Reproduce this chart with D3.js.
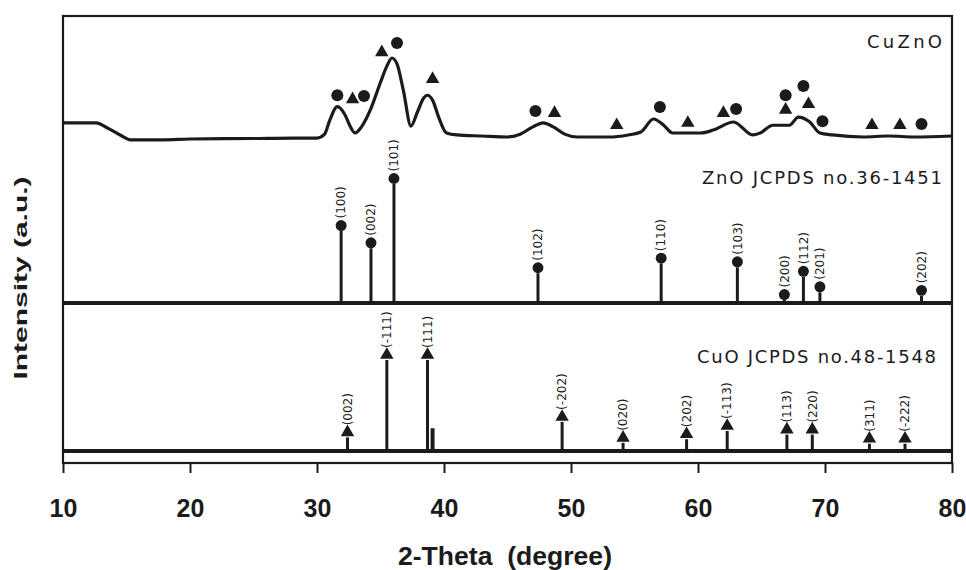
<!DOCTYPE html>
<html>
<head>
<meta charset="utf-8">
<script src="https://cdn.jsdelivr.net/npm/d3@7"></script>
<style>
  body { margin: 0; background: #fff; }
  svg { display: block; }
</style>
</head>
<body>
<div id="chart"></div>
<script>
// XRD patterns: CuZnO sample + ZnO / CuO reference cards
var mixTheta     = [10, 12.6, 13.5, 14.5, 15.4, 18, 20, 25, 28, 30, 30.6, 31.0, 31.6, 32.2, 32.6, 33.0, 33.5, 34.2, 35.0, 35.5, 35.9, 36.3, 36.8, 37.4, 37.9, 38.4, 38.7, 39.1, 39.6, 40.2, 41, 43, 45, 46, 47.0, 47.8, 48.6, 49.5, 50.5, 53, 54.5, 55.5, 56.5, 57.3, 58, 60.2, 61.2, 62.8, 64.3, 64.9, 65.9, 67.2, 67.9, 68.8, 69.6, 70.6, 73, 75, 77, 80];
var mixIntensity = [19.8, 19.8, 13.6, 4.9, -1.2, -1, 0, 0.6, 1.2, 1.2, 6, 23, 40, 30, 16, 7.4, 15, 36, 70, 90, 100, 92.6, 60, 16, 33, 50.6, 54, 48, 26, 7.4, 5, 3.7, 2.5, 6, 15, 20, 15, 6, 2.5, 2.5, 5, 8.6, 24.7, 17, 7.4, 7.4, 11, 21, 5, 7.4, 17, 17, 27, 21, 7.4, 5, 2.5, 3.7, 2.5, 3.7];

// phase markers over the CuZnO pattern ("c" = ZnO circle, "t" = CuO triangle)
var mixMarkTheta     = [31.6, 32.8, 33.7, 35.1, 36.3, 39.1, 47.2, 48.7, 53.6, 57.0, 59.2, 62.0, 63.0, 66.9, 68.3, 66.9, 68.7, 69.8, 73.7, 75.9, 77.6];
var mixMarkIntensity = [54, 49, 53, 107, 118.5, 74, 34.6, 32, 17, 39.5, 19.8, 32, 37, 54, 65.4, 36, 43, 22, 17, 17, 18.5];
var mixMarkShape     = ["c", "t", "c", "t", "c", "t", "c", "t", "t", "c", "t", "t", "c", "c", "c", "t", "t", "c", "t", "t", "c"];

var znoTheta     = [31.9, 34.25, 36.06, 47.4, 57.1, 63.1, 66.8, 68.3, 69.6, 77.6];
var znoIntensity = [60.5, 46, 100, 25, 33, 30, 2.5, 22, 9, 6];
var znoHkl       = ["(100)", "(002)", "(101)", "(102)", "(110)", "(103)", "(200)", "(112)", "(201)", "(202)"];

var cuoTheta     = [32.4, 35.5, 38.7, 39.1, 49.3, 54.1, 59.1, 62.3, 67.0, 69.0, 73.5, 76.3];
var cuoIntensity = [15, 100, 100, 25, 32, 9, 13, 22, 18, 18, 8, 8];
var cuoHkl       = ["(002)", "(-111)", "(111)", "", "(-202)", "(020)", "(202)", "(-113)", "(113)", "(220)", "(311)", "(-222)"];

var xTicks = [10, 20, 30, 40, 50, 60, 70, 80];

var width = 966, height = 570;
var ink = "#1b1b1b";

var svg = d3.select("#chart")
    .append("svg")
    .attr("width", width)
    .attr("height", height)

var x = d3.scaleLinear().domain([10, 80]).range([63, 952]);
var yMix = d3.scaleLinear().domain([0, 100]).range([139, 58]);
var yZnO = d3.scaleLinear().domain([0, 100]).range([303, 184]);
var yCuO = d3.scaleLinear().domain([0, 100]).range([451, 360]);

// frame
svg.append("rect")
    .attr("x", x(10))
    .attr("y", 16)
    .attr("width", x(80) - x(10))
    .attr("height", 463 - 16)
    .attr("fill", "none")
    .attr("stroke", ink)
    .attr("stroke-width", 2.2)

// x axis
var xAxis = d3.axisBottom(x)
    .tickValues(xTicks)
    .tickSize(10)
    .tickSizeOuter(0)
    .tickPadding(26)
    .tickFormat(d3.format("d"))

var gx = svg.append("g")
    .attr("transform", "translate(0,463)")
    .call(xAxis)
gx.select(".domain").remove()
gx.selectAll("line").attr("stroke", ink).attr("stroke-width", 2)
gx.selectAll("text")
    .attr("fill", ink)
    .attr("dy", "0.71em")
    .style("font-family", "'Liberation Sans', Arial, sans-serif")
    .style("font-weight", "bold")
    .style("font-size", "25px")

// axis titles
svg.append("text")
    .attr("x", 505)
    .attr("y", 565)
    .attr("text-anchor", "middle")
    .attr("fill", ink)
    .attr("textLength", 214)
    .attr("lengthAdjust", "spacingAndGlyphs")
    .style("white-space", "pre")
    .style("font-family", "'Liberation Sans', Arial, sans-serif")
    .style("font-weight", "bold")
    .style("font-size", "25px")
    .text("2-Theta  (degree)")

svg.append("text")
    .attr("transform", "translate(27,278) rotate(-90)")
    .attr("text-anchor", "middle")
    .attr("fill", ink)
    .attr("textLength", 203)
    .attr("lengthAdjust", "spacingAndGlyphs")
    .style("font-family", "'Liberation Sans', Arial, sans-serif")
    .style("font-weight", "bold")
    .style("font-size", "18px")
    .text("Intensity (a.u.)")

// CuZnO pattern
var line = d3.line()
    .x(function(d, i) { return x(mixTheta[i]) })
    .y(function(d) { return yMix(d) })
    .curve(d3.curveMonotoneX)

svg.append("path")
    .datum(mixIntensity)
    .attr("d", line)
    .attr("fill", "none")
    .attr("stroke", ink)
    .attr("stroke-width", 3.2)
    .attr("stroke-linejoin", "round")

var triangle = d3.symbol().type(d3.symbolTriangle).size(78);

svg.selectAll(".mix-mark")
    .data(mixMarkTheta)
    .enter().append("path")
    .attr("class", "mix-mark")
    .attr("transform", function(d, i) {
        return "translate(" + x(d) + "," + yMix(mixMarkIntensity[i]) + ")"
    })
    .attr("d", function(d, i) {
        if (mixMarkShape[i] === "c") {
            return d3.symbol().type(d3.symbolCircle).size(Math.PI * 36)()
        }
        return triangle()
    })
    .attr("fill", ink)

// reference cards: baseline + sticks + markers + hkl labels
function drawCard(theta, inten, hkl, y, shape, baseStroke) {
    svg.append("line")
        .attr("x1", x(10))
        .attr("x2", x(80))
        .attr("y1", y(0))
        .attr("y2", y(0))
        .attr("stroke", ink)
        .attr("stroke-width", baseStroke)

    svg.selectAll(null)
        .data(theta)
        .enter().append("line")
        .attr("x1", function(d) { return x(d) })
        .attr("x2", function(d) { return x(d) })
        .attr("y1", y(0))
        .attr("y2", function(d, i) { return y(inten[i]) })
        .attr("stroke", ink)
        .attr("stroke-width", function(d, i) { return hkl[i] === "" ? 4 : 3 })

    var marked = theta.map(function(d, i) { return i }).filter(function(i) { return hkl[i] !== "" });
    var gap = shape === "c" ? 5.5 : 5;

    svg.selectAll(null)
        .data(marked)
        .enter().append("path")
        .attr("transform", function(i) {
            return "translate(" + x(theta[i]) + "," + (y(inten[i]) - gap) + ")"
        })
        .attr("d", function() {
            if (shape === "c") {
                return d3.symbol().type(d3.symbolCircle).size(Math.PI * 30)()
            }
            return triangle()
        })
        .attr("fill", ink)

    svg.selectAll(null)
        .data(marked)
        .enter().append("text")
        .attr("transform", function(i) {
            return "translate(" + x(theta[i]) + "," + (y(inten[i]) - gap - 7) + ") rotate(-90)"
        })
        .attr("dy", "0.35em")
        .attr("fill", ink)
        .style("font-family", "'DejaVu Sans', sans-serif")
        .style("font-size", "12px")
        .text(function(i) { return hkl[i] })
}

drawCard(znoTheta, znoIntensity, znoHkl, yZnO, "c", 4);
drawCard(cuoTheta, cuoIntensity, cuoHkl, yCuO, "t", 4);

// sample / card names
var names = [
    { text: "CuZnO", x: 942, y: 48, len: 75 },
    { text: "ZnO JCPDS no.36-1451", x: 942, y: 184, len: 240 },
    { text: "CuO JCPDS no.48-1548", x: 936, y: 363, len: 239 }
];

svg.selectAll(".name")
    .data(names)
    .enter().append("text")
    .attr("class", "name")
    .attr("x", function(d) { return d.x - d.len })
    .attr("y", function(d) { return d.y })
    .attr("textLength", function(d) { return d.len })
    .attr("lengthAdjust", "spacing")
    .attr("fill", ink)
    .style("font-family", "'DejaVu Sans', Verdana, sans-serif")
    .style("font-size", "18px")
    .text(function(d) { return d.text })
</script>
</body>
</html>
